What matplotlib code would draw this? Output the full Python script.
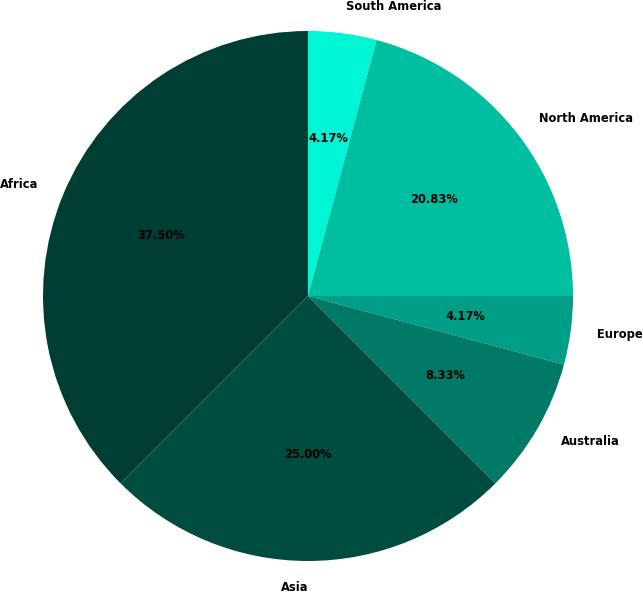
import matplotlib
matplotlib.use("Agg")
import matplotlib.pyplot as plt

# Datos del gráfico
regions = ["South America", "North America", "Europe", "Australia", "Asia", "Africa"]
counts = [1, 5, 1, 2, 6, 9]
colors = ["#00f5d4", "#00bfa0", "#009e87", "#007a67", "#004d40", "#003d33"]

fig = plt.figure(figsize=(6.43, 5.92), dpi=100)
ax = fig.add_axes([0, 0, 1, 1])

ax.pie(counts, labels=regions, colors=colors, autopct="%.2f%%",
       startangle=90, counterclock=False, labeldistance=1.1, pctdistance=0.6,
       textprops={"fontsize": 8.3, "fontweight": "bold"})

# centro en (308, 296) px, radio 265 px
r = 265
ax.set_xlim(-308 / r, (643 - 308) / r)
ax.set_ylim(-(592 - 296) / r, 296 / r)
ax.set_aspect("equal")
ax.axis("off")

fig.savefig("out.png", dpi=100)
